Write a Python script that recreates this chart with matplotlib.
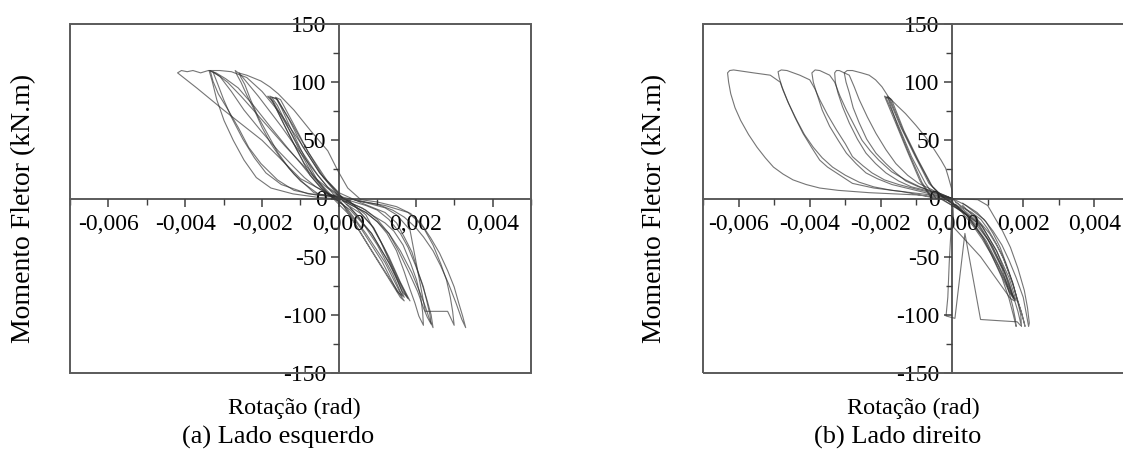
import numpy as np
import matplotlib
matplotlib.use("Agg")
from matplotlib import pyplot as plt
from matplotlib.patches import Rectangle
from matplotlib.ticker import MultipleLocator, FixedLocator, FixedFormatter

plt.rcParams['font.family'] = ['Liberation Serif', 'DejaVu Serif']

# rotation values are in 1e-3 rad, moment in kN.m

# ---- (a) Lado esquerdo ----
a1_rot = [0, 0.4, 1.0, 1.6, 1.7, 1.3, 0.8, 0.3, -0.3, -0.9, -1.3, -1.6, -1.8, -1.6, -1.2, -0.8, -0.3, 0.2]
a1_mom = [0, -21, -53, -85, -88, -68, -42, -15, 5, 30, 55, 75, 88, 85, 63, 40, 15, -3]

a2_rot = [0.2, 0.57, 0.9, 1.17, 1.53, 1.8, 1.65, 1.3, 0.85, 0.3, -0.29, -0.65, -0.99, -1.32, -1.6, -1.75,
          -1.62, -1.3, -0.95, -0.5, 0, 0.3]
a2_mom = [-5, -13, -25, -42, -68, -86, -80, -55, -30, -10, 4, 18, 39, 61, 80, 87,
          86, 68, 45, 22, 2, -3]

a3_rot = [0.3, 0.7, 1.1, 1.45, 1.7, 1.58, 1.2, 0.7, 0.2, -0.2, -0.55, -0.9, -1.25, -1.5, -1.65,
          -1.52, -1.18, -0.8, -0.4, 0.1]
a3_mom = [-3, -14, -38, -64, -85, -80, -55, -30, -8, 3, 15, 36, 60, 78, 87,
          85, 64, 40, 18, 0]

a4_rot = [0.1, 0.5, 1.0, 1.4, 1.65, 1.52, 1.12, 0.6, 0.1, -0.35, -0.75, -1.1, -1.45, -1.7, -1.85,
          -1.72, -1.38, -1.0, -0.55, -0.1]
a4_mom = [-2, -15, -40, -65, -84, -80, -54, -27, -5, 5, 20, 42, 65, 82, 88,
          84, 64, 42, 20, 2]

a5_rot = [-0.1, -0.55, -1.2, -1.77, -2.15, -2.47, -2.75, -2.99, -3.18, -3.3, -3.38,
          -3.3, -3.2, -2.95, -2.62, -2.2, -1.77, -1.35, -0.99, -0.7, -0.47, -0.2, 0,
          0.3, 0.6, 0.9, 1.2, 1.43, 1.67, 1.87, 2.02, 2.13, 2.18, 2.2,
          2.08, 1.98, 1.85, 1.7, 1.5, 1.25, 1.0, 0.7, 0.1]
a5_mom = [0, 1, 4, 9, 18, 33, 50, 67, 85, 101, 110,
          109, 108, 103, 95, 79, 61, 44, 30, 18, 9, 3, 0,
          -4, -8, -15, -21, -28, -40, -56, -70, -85, -98, -109,
          -101, -90, -78, -63, -45, -30, -20, -12, -2]

a6_rot = [0, -0.6, -1.17, -1.6, -2.03, -2.35, -2.62, -2.9, -3.14, -3.28, -3.35,
          -3.25, -3.1, -2.8, -2.47, -2.0, -1.58, -1.2, -0.9, -0.6, -0.3,
          0.4, 0.7, 1.0, 1.3, 1.6, 1.8, 2.0, 2.15, 2.3, 2.4, 2.45,
          2.36, 2.25, 2.1, 1.9, 1.6, 1.3, 1.0, 0.7, 0.2]
a6_mom = [1, 3, 7, 16, 30, 44, 61, 77, 90, 101, 110,
          108, 105, 92, 76, 57, 41, 28, 18, 10, 4,
          -3, -6, -10, -18, -30, -42, -58, -72, -88, -100, -111,
          -104, -93, -80, -64, -45, -30, -18, -10, -2]

a7_rot = [0, -0.8, -1.5, -1.9, -2.2, -2.5, -2.8, -3.0, -3.15, -3.28,
          -3.1, -2.9, -2.55, -2.2, -1.8, -1.4, -1.0, -0.7, -0.3, 0,
          0.5, 1.2, 1.8, 2.0, 2.2, 2.45, 2.65, 2.8, 2.9, 2.96, 3.0,
          2.83, 2.25, 1.85, 1.5, 1.2, 0.3]
a7_mom = [2, 4, 12, 22, 35, 51, 70, 85, 98, 109,
          105, 100, 88, 75, 60, 45, 31, 20, 9, 2,
          -2, -6, -12, -18, -25, -40, -56, -70, -85, -97, -109,
          -97, -97, -27, -14, -8, 0]

a8_rot = [0, -0.65, -1.17, -1.5, -1.77, -2.0, -2.2, -2.4, -2.55, -2.65, -2.7,
          -2.62, -2.4, -2.03, -1.8, -1.58, -1.17, -0.73, -0.29, -0.03, 0.23, 0.57,
          1.0, 1.5, 1.87, 2.15, 2.39, 2.62, 2.83, 3.0, 3.12, 3.22, 3.3,
          3.2, 3.05, 2.85, 2.65, 2.45, 2.2, 2.0, 1.7, 1.4, 1.0, 0.5]
a8_mom = [0, 5, 21, 34, 47, 61, 76, 89, 100, 106, 110,
          108, 106, 101, 96, 90, 76, 58, 41, 24, 9, -1,
          -3, -7, -13, -22, -34, -47, -62, -76, -90, -101, -111,
          -104, -90, -73, -58, -45, -33, -25, -16, -10, -5, -2]

a9_rot = [0.3, -0.2, -1.0, -2.0, -3.0, -3.7, -4.2, -4.1, -3.95, -3.8, -3.6, -3.4, -3.1, -2.8, -2.4, -2.0,
          -1.5, -1.0, -0.5, 0,
          0.6, 1.2, 1.5, 1.7, 1.9, 2.05, 2.2, 2.3, 2.37, 2.4,
          2.3, 2.2, 2.05, 1.8, 1.55, 1.3, 1.0, 0.7, 0]
a9_mom = [-2, 3, 17, 50, 76, 95, 108, 110, 109, 110, 108, 110, 110, 109, 104, 92,
          72, 48, 22, 5,
          -4, -12, -21, -33, -46, -62, -76, -90, -100, -108,
          -102, -94, -80, -62, -45, -30, -20, -12, 0]

a10_rot = [0, -0.5, -1.0, -1.3, -1.6, -1.85, -2.1, -2.3, -2.45, -2.55, -2.6,
           -2.4, -2.1, -1.8, -1.5, -1.2, -0.9, -0.6, -0.3, 0,
           0.4, 0.9, 1.3, 1.6, 1.85, 1.72, 1.35, 0.85, 0.3]
a10_mom = [3, 3, 15, 26, 40, 55, 70, 85, 98, 104, 108,
           100, 88, 75, 62, 48, 35, 22, 10, 3,
           -6, -25, -50, -72, -88, -82, -58, -30, -8]

# ---- (b) Lado direito ----
b1_rot = [0, -0.94, -2.33, -3.2, -3.72, -4.1, -4.47, -4.75, -5.02, -5.25, -5.48, -5.72, -5.94, -6.1, -6.22,
          -6.28, -6.31, -6.25, -6.14, -5.58, -5.11, -4.83,
          -4.75, -4.64, -4.42, -4.19, -3.95, -3.72, -3.5, -3.25, -3.0, -2.8, -2.2, -1.41, -0.58, 0,
          0.08, 0.4, 0.72, 1.0, 1.19, 1.4, 1.56, 1.7, 1.78, 1.8,
          1.72, 1.6, 1.4, 1.1, 0.85, 0.6, 0.1]
b1_mom = [0, 3, 5, 7, 9, 12, 16, 21, 27, 35, 44, 55, 67, 78, 90,
          100, 108, 110, 110.5, 108, 106, 100,
          93, 85, 70, 56, 44, 33, 27, 22, 17, 13, 9, 6, 1, -2,
          -7, -14, -24, -35, -47, -60, -76, -92, -104, -110,
          -100, -86, -68, -48, -35, -24, -5]

b2_rot = [0, -0.58, -1.69, -2.2, -2.61, -3.0, -3.36, -3.65, -3.9, -4.15, -4.36, -4.6, -4.78, -4.86, -4.89,
          -4.8, -4.64, -4.28, -4.0,
          -3.85, -3.72, -3.5, -3.25, -3.0, -2.8, -2.5, -2.25, -1.9, -1.5, -1.0, -0.58, 0,
          0.25, 0.55, 0.81, 1.0, 1.19, 1.4, 1.56, 1.72, 1.83, 1.95, 2.03, 2.05,
          1.95, 1.85, 1.75, 1.6, 1.45, 1.25, 1.05, 0.6, 0.1]
b2_mom = [0, 3, 7, 10, 14, 20, 27, 35, 44, 55, 67, 82, 96, 104, 109,
          110.5, 110, 106, 102,
          94, 85, 72, 59, 47, 36, 28, 22, 16, 12, 8, 5, 0,
          -7, -12, -18, -26, -36, -48, -61, -74, -87, -98, -107, -110,
          -98, -88, -78, -64, -52, -40, -30, -14, -3]

b3_rot = [0, -0.75, -1.69, -2.1, -2.42, -2.7, -2.97, -3.2, -3.44, -3.65, -3.81, -3.9, -3.94,
          -3.85, -3.72, -3.44, -3.3,
          -3.15, -2.97, -2.75, -2.53, -2.3, -2.06, -1.7, -1.31, -0.9, -0.58, 0,
          0.4, 0.7, 0.95, 1.15, 1.35, 1.52, 1.7, 1.83, 1.93, 1.95,
          1.85, 1.72, 1.6, 1.42, 1.25, 1.0, 0.8, 0.3]
b3_mom = [0, 5, 12, 17, 22, 30, 39, 50, 62, 76, 91, 100, 108,
          110.5, 110, 106, 100,
          88, 76, 63, 50, 41, 33, 23, 16, 10, 6, 0,
          -6, -12, -20, -30, -42, -56, -72, -87, -100, -110,
          -97, -84, -72, -58, -45, -32, -22, -6]

b4_rot = [0, -0.47, -1.14, -1.5, -1.86, -2.15, -2.42, -2.66, -2.89, -3.08, -3.21, -3.28, -3.3,
          -3.25, -3.17, -2.89,
          -2.75, -2.61, -2.38, -2.14, -1.86, -1.58, -1.25, -0.94, -0.39, 0,
          0.72, 1.0, 1.19, 1.42, 1.64, 1.85, 2.03, 2.12, 2.17, 2.15,
          2.08, 2.0, 1.8, 1.6, 1.4, 1.15, 0.9, 0.3]
b4_mom = [0, 5, 10, 15, 22, 30, 39, 51, 65, 79, 91, 100, 108,
          110, 110, 106,
          96, 85, 70, 56, 42, 30, 20, 13, 5, 0,
          -1, -6, -16, -28, -42, -60, -79, -94, -107, -110,
          -98, -85, -68, -53, -40, -28, -18, -4]

b5_rot = [0, -0.39, -0.94, -1.3, -1.58, -1.86, -2.14, -2.4, -2.61, -2.78, -2.89, -2.98, -3.03,
          -2.95, -2.8, -2.55, -2.33, -2.15, -1.97, -1.78,
          -1.55, -1.31, -1.02, -0.75, -0.5, -0.31, -0.18, -0.11, 0, 0.03, 0.05, 0.8, 1.64, 1.75]
b5_mom = [0, 5, 10, 15, 22, 30, 39, 51, 65, 78, 91, 100, 108,
          110, 110, 108, 106, 102, 96, 87,
          80, 73, 63, 53, 42, 33, 26, 19, 7, -10, -25, -50, -86, -88]

b6_rot = [-0.45, -0.75, -1.14, -1.5, -1.86, -1.75, -1.4, -1.0, -0.6, -0.3,
          0.2, 0.75, 1.15, 1.5, 1.75, 1.62, 1.3, 0.9, 0.4, -0.2]
b6_mom = [0, 13, 36, 62, 87, 86, 60, 35, 12, 2,
          -8, -22, -42, -65, -87, -80, -58, -35, -14, 0]

b7_rot = [-0.55, -0.85, -1.2, -1.55, -1.82, -1.7, -1.35, -0.95, -0.55, -0.2,
          0.3, 0.85, 1.25, 1.6, 1.8, 1.68, 1.35, 0.95, 0.45, -0.3]
b7_mom = [0, 14, 38, 64, 88, 85, 58, 33, 10, 0,
          -9, -24, -45, -68, -88, -82, -60, -36, -15, 0]

b8_rot = [-0.6, -0.9, -1.25, -1.6, -1.9, -1.78, -1.45, -1.05, -0.65, -0.25,
          0.15, 0.7, 1.1, 1.45, 1.72, 1.6, 1.25, 0.85, 0.35, -0.4]
b8_mom = [1, 15, 40, 66, 88, 86, 62, 37, 13, 1,
          -7, -21, -40, -62, -86, -80, -57, -33, -12, 1]

b9_rot = [0, -0.08, -0.12, -0.17, 0.08, 0.36, 0.8, 1.3, 1.83, 1.92]
b9_mom = [-10, -55, -85, -101, -103, -30, -104, -105, -106, -109]

xticks = [-0.006, -0.004, -0.002, 0.0, 0.002, 0.004]
xticklabels = ['-0,006', '-0,004', '-0,002', '0,000', '0,002', '0,004']
yticks = [-150, -100, -50, 0, 50, 100, 150]
yticklabels = ['-150', '-100', '-50', '0', '50', '100', '150']

loops_a = [(a1_rot, a1_mom), (a2_rot, a2_mom), (a3_rot, a3_mom), (a4_rot, a4_mom),
           (a5_rot, a5_mom), (a6_rot, a6_mom), (a7_rot, a7_mom), (a8_rot, a8_mom),
           (a9_rot, a9_mom), (a10_rot, a10_mom)]
loops_b = [(b1_rot, b1_mom), (b2_rot, b2_mom), (b3_rot, b3_mom), (b4_rot, b4_mom),
           (b5_rot, b5_mom), (b6_rot, b6_mom), (b7_rot, b7_mom), (b8_rot, b8_mom),
           (b9_rot, b9_mom)]


def style_axes(ax):
    ax.set_xlim(-0.007, 0.005)
    ax.set_ylim(-150, 150)
    ax.spines['left'].set_position(('data', 0))
    ax.spines['bottom'].set_position(('data', 0))
    ax.spines['top'].set_visible(False)
    ax.spines['right'].set_visible(False)
    for s in ('left', 'bottom'):
        ax.spines[s].set_color('#404040')
        ax.spines[s].set_linewidth(1.2)
    ax.add_patch(Rectangle((0, 0), 1, 1, transform=ax.transAxes, fill=False,
                           lw=1.4, ec='#5a5a5a', clip_on=False, zorder=5))
    ax.xaxis.set_major_locator(FixedLocator(xticks))
    ax.xaxis.set_major_formatter(FixedFormatter(xticklabels))
    ax.yaxis.set_major_locator(FixedLocator(yticks))
    ax.yaxis.set_major_formatter(FixedFormatter(yticklabels))
    ax.xaxis.set_minor_locator(MultipleLocator(0.001))
    ax.yaxis.set_minor_locator(MultipleLocator(25))
    ax.tick_params(which='major', direction='out', length=6, width=1.1,
                   color='#404040', labelsize=17)
    ax.tick_params(which='minor', direction='out', length=4, width=1.0, color='#404040')
    ax.tick_params(axis='x', pad=5)
    ax.tick_params(axis='y', pad=3)
    ax.patch.set_alpha(0)


fig = plt.figure(figsize=(11.23, 4.51), dpi=100)
W, H = 1123.0, 451.0
ax_a = fig.add_axes([70 / W, 78 / H, 461 / W, 349 / H])
ax_b = fig.add_axes([703 / W, 78 / H, 427 / W, 349 / H])

for ax, loops in ((ax_a, loops_a), (ax_b, loops_b)):
    for rot, mom in loops:
        ax.plot(np.array(rot) * 1e-3, mom, color='#2b2b2b', lw=0.8, alpha=0.65)
    style_axes(ax)

fig.text(24 / W, 1 - 208 / H, 'Momento Fletor (kN.m)', rotation=90,
         ha='center', va='center', fontsize=20)
fig.text(655 / W, 1 - 208 / H, 'Momento Fletor (kN.m)', rotation=90,
         ha='center', va='center', fontsize=20)
fig.text(294 / W, 1 - 408 / H, 'Rotação (rad)', ha='center', va='center', fontsize=17.5)
fig.text(913 / W, 1 - 408 / H, 'Rotação (rad)', ha='center', va='center', fontsize=17.5)
fig.text(278 / W, 1 - 437 / H, '(a) Lado esquerdo', ha='center', va='center', fontsize=19)
fig.text(898 / W, 1 - 437 / H, '(b) Lado direito', ha='center', va='center', fontsize=19)

fig.savefig('out.png', dpi=100)
